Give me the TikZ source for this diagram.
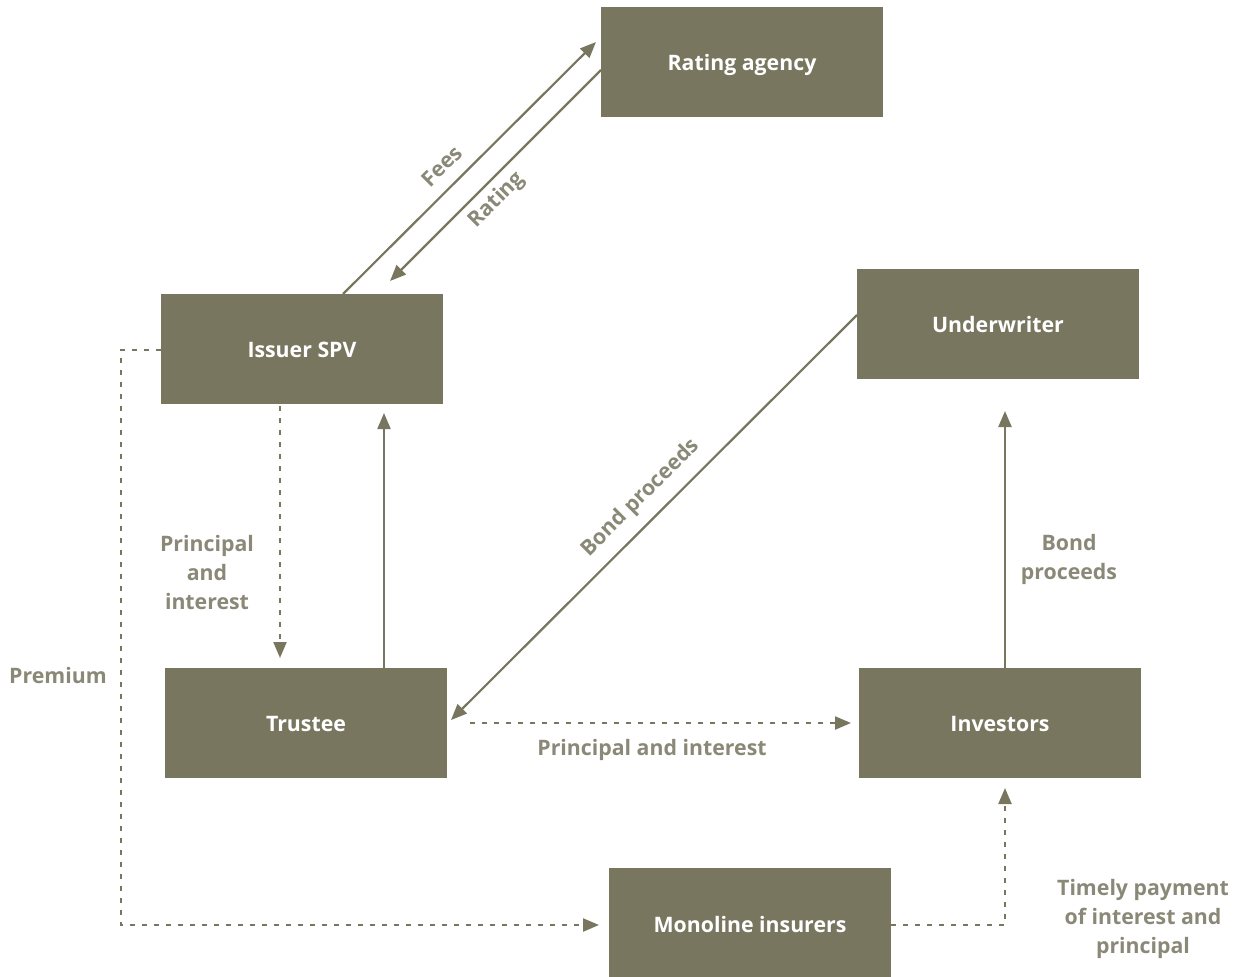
\documentclass[tikz,border=0pt]{standalone}
\usepackage{fontspec}
\setmainfont{Open Sans}
\usetikzlibrary{arrows.meta}
\definecolor{boxcol}{HTML}{797660}
\definecolor{labcol}{HTML}{8A8877}
\begin{document}
\begin{tikzpicture}[x=1pt,y=-1pt,
  entity/.style={fill=boxcol,draw=none,minimum width=282pt,minimum height=110pt,
    text=white,font=\fontsize{21.3}{27}\selectfont\bfseries,inner sep=0pt,
    text height=18pt,text depth=2pt},
  lab/.style={text=labcol,font=\fontsize{21.3}{29}\selectfont\bfseries,align=center,inner sep=0pt},
  flow/.style={draw=boxcol,line width=2.2pt,-{Triangle[length=16pt,width=13pt]}},
  dflow/.style={flow,dash pattern=on 5pt off 7pt}]
\useasboundingbox (0,0) rectangle (1242,977);

% entities
\node[entity] (rating) at (742,62) {Rating agency};
\node[entity] (issuer) at (302,349) {Issuer SPV};
\node[entity] (under) at (998,324) {Underwriter};
\node[entity] (trustee) at (306,723) {Trustee};
\node[entity] (invest) at (1000,723) {Investors};
\node[entity,minimum height=112pt] (mono) at (750,924) {Monoline insurers};

% helper points on box edges
\coordinate (feesA) at (343,294);
\coordinate (feesB) at (596,42);
\coordinate (ratA) at (601,70);
\coordinate (ratB) at (390,281);
\coordinate (bpA) at (857,315);
\coordinate (bpB) at (451,720);
\coordinate (preA) at (161,350);
\coordinate (preC1) at (121,350);
\coordinate (preC2) at (121,925);
\coordinate (preB) at (599,925);
\coordinate (monA) at (891,925);
\coordinate (monC) at (1005,925);
\coordinate (monB) at (1005,788);

% connectors
\draw[flow] (feesA) -- (feesB);
\draw[flow] (ratA) -- (ratB);
\draw[flow] (bpA) -- (bpB);
\draw[dflow] (issuer.south -| 280,0) ++(0,2) -- (280,658);
\draw[flow] (trustee.north -| 384,0) -- (384,413);
\draw[dflow] (470,723) -- (851,723);
\draw[flow] (invest.north -| 1005,0) -- (1005,411);
\draw[dflow] (preA) -- (preC1) -- (preC2) -- (preB);
\draw[dflow] (monA) -- (monC) -- (monB);

% labels
\node[lab,rotate=45] (lfees) at (442,166) {Fees};
\node[lab,rotate=45] (lrat) at (497,200) {Rating};
\node[lab,rotate=45] (lbp) at (641,498) {Bond proceeds};
\node[lab] (lpi1) at (207,573) {Principal\\and\\interest};
\node[lab] (lprem) at (58,676) {Premium};
\node[lab] (lpi2) at (652,750) {Principal and interest};
\node[lab] (lbp2) at (1069,559) {Bond\\proceeds};
\node[lab] (ltimely) at (1143,919) {Timely payment\\of interest and\\principal};
\end{tikzpicture}
\end{document}
